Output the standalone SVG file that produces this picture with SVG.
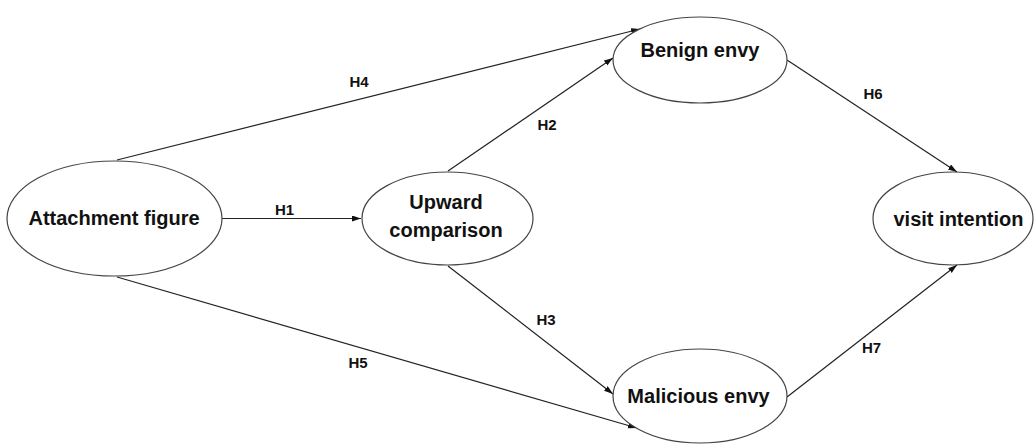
<svg xmlns="http://www.w3.org/2000/svg" width="1035" height="445" viewBox="0 0 1035 445">
<style>
.node{fill:#ffffff;stroke:#454545;stroke-width:1.2}
.nt{font-family:"Liberation Sans",Arial,sans-serif;font-weight:bold;font-size:20px;fill:#111;text-anchor:middle}
.lb{font-family:"Liberation Sans",Arial,sans-serif;font-weight:bold;font-size:15px;fill:#111;text-anchor:middle}
.edge{stroke:#222;stroke-width:1.2;fill:none;marker-end:url(#arr)}
</style>
<defs>
<marker id="arr" markerUnits="userSpaceOnUse" markerWidth="10" markerHeight="7" refX="9" refY="3" orient="auto">
<path d="M0,0 L9,3 L0,6 Z" fill="#111"/>
</marker>
</defs>
<rect width="1035" height="445" fill="#ffffff"/>
<g id="connectors">
<line class="edge" x1="222" y1="218.5" x2="361" y2="218.5"/>
<line class="edge" x1="117" y1="160" x2="640" y2="29"/>
<line class="edge" x1="117" y1="277" x2="637" y2="428"/>
<line class="edge" x1="448" y1="171" x2="613" y2="58"/>
<line class="edge" x1="448" y1="266" x2="613" y2="394"/>
<line class="edge" x1="787" y1="60" x2="957" y2="172"/>
<line class="edge" x1="787" y1="397" x2="957" y2="265"/>
<text class="lb" x="284.5" y="215">H1</text>
<text class="lb" x="359" y="87">H4</text>
<text class="lb" x="547" y="130">H2</text>
<text class="lb" x="546" y="325">H3</text>
<text class="lb" x="358" y="368">H5</text>
<text class="lb" x="873" y="99">H6</text>
<text class="lb" x="871.5" y="353">H7</text>
</g>
<g id="attachment-figure">
<ellipse class="node" cx="114.5" cy="218.5" rx="107.5" ry="57.5"/>
<text class="nt" x="114" y="225">Attachment figure</text>
</g>
<g id="upward-comparison">
<ellipse class="node" cx="447.5" cy="218.5" rx="85.5" ry="46.5"/>
<text class="nt" x="446" y="209">Upward</text>
<text class="nt" x="446" y="237">comparison</text>
</g>
<g id="benign-envy">
<ellipse class="node" cx="700" cy="60" rx="87" ry="43"/>
<text class="nt" x="700" y="57">Benign envy</text>
</g>
<g id="malicious-envy">
<ellipse class="node" cx="700" cy="396" rx="87" ry="47"/>
<text class="nt" x="698.5" y="403">Malicious envy</text>
</g>
<g id="visit-intention">
<ellipse class="node" cx="953" cy="218.5" rx="80" ry="46.5"/>
<text class="nt" x="958.5" y="226">visit intention</text>
</g>
</svg>
